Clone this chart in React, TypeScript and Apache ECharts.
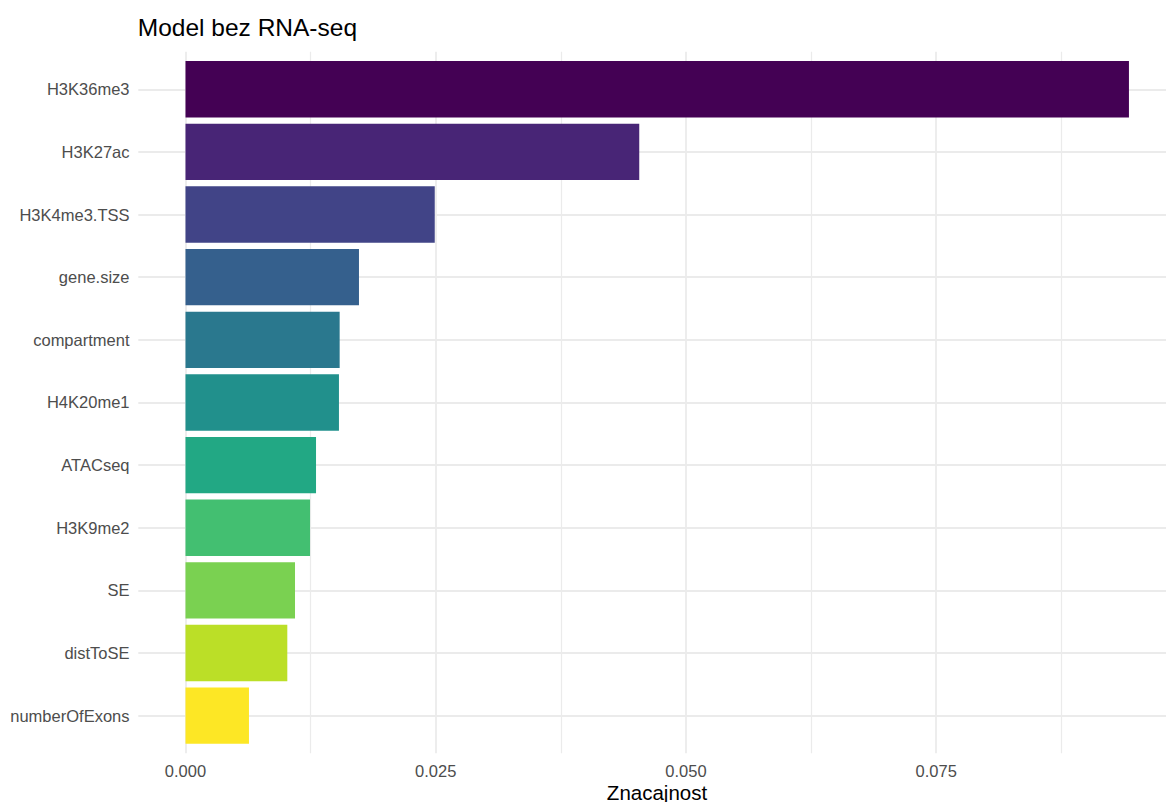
import React, { useEffect, useRef } from "react";
import * as echarts from "echarts";

const categories = [
  "H3K36me3",
  "H3K27ac",
  "H3K4me3.TSS",
  "gene.size",
  "compartment",
  "H4K20me1",
  "ATACseq",
  "H3K9me2",
  "SE",
  "distToSE",
  "numberOfExons",
];
const importance = [
  0.09425, 0.04533, 0.0249, 0.01733, 0.0154, 0.01533, 0.01304, 0.01244, 0.01094,
  0.01017, 0.00634,
];
const barColors = [
  "#440154",
  "#482576",
  "#414487",
  "#35608D",
  "#2A788E",
  "#21908C",
  "#22A884",
  "#43BF71",
  "#7AD151",
  "#BBDF27",
  "#FDE725",
];
const titleText = "Model bez RNA-seq";
const xTitle = "Znacajnost";
const xMax = 0.1;
const xInterval = 0.025;

const FONT = "'Liberation Sans', Arial, sans-serif";
const GRID_COLOR = "#EBEBEB";

export default function App() {
  const ref = useRef<HTMLDivElement>(null);
  useEffect(() => {
    if (!ref.current) return;
    const chart = echarts.init(ref.current, null, { renderer: "svg" });
    const pxPerUnit = 10010;
    const zeroX = 185.5;
    const gridW = xMax * pxPerUnit;
    chart.setOption({
      animation: false,
      backgroundColor: "#ffffff",
      textStyle: { fontFamily: FONT },
      grid: [
        { left: zeroX, top: 51.7, width: gridW, height: 701.6, containLabel: false },
        { left: 138.3, top: 89.3, width: 1040, height: 626.4, containLabel: false },
        { left: zeroX, top: 57.96, width: gridW, height: 689, containLabel: false },
      ],
      xAxis: [
        {
          gridIndex: 0,
          type: "value",
          min: 0,
          max: xMax,
          interval: xInterval,
          axisLine: { show: false },
          axisTick: { show: false },
          axisLabel: {
            show: true,
            margin: 8.2,
            color: "#4D4D4D",
            fontSize: 16.5,
            lineHeight: 18,
            fontFamily: FONT,
            showMaxLabel: false,
            formatter: (v: number) => v.toFixed(3),
          },
          splitLine: { show: true, lineStyle: { color: GRID_COLOR, width: 1.8 } },
          minorTick: { show: false, splitNumber: 2 },
          minorSplitLine: { show: true, lineStyle: { color: GRID_COLOR, width: 1.2 } },
        },
        { gridIndex: 1, type: "value", min: 0, max: 1, show: false },
        { gridIndex: 2, type: "value", min: 0, max: xMax, show: false },
      ],
      yAxis: [
        { gridIndex: 0, type: "value", min: 0, max: 1, show: false },
        {
          gridIndex: 1,
          type: "value",
          min: 0,
          max: categories.length - 1,
          interval: 1,
          axisLine: { show: false },
          axisTick: { show: false },
          axisLabel: { show: false },
          splitLine: { show: true, lineStyle: { color: GRID_COLOR, width: 1.8 } },
        },
        {
          gridIndex: 2,
          type: "category",
          data: categories,
          inverse: true,
          axisLine: { show: false },
          axisTick: { show: false },
          splitLine: { show: false },
          axisLabel: {
            margin: 56,
            color: "#4D4D4D",
            fontSize: 16.5,
            fontFamily: FONT,
          },
        },
      ],
      series: [
        {
          type: "bar",
          xAxisIndex: 2,
          yAxisIndex: 2,
          barCategoryGap: "10%",
          data: importance.map((v, i) => ({
            value: v,
            itemStyle: { color: barColors[i] },
          })),
        },
      ],
      graphic: [
        {
          type: "text",
          x: 137.8,
          y: 27.5,
          style: {
            text: titleText,
            fill: "#000000",
            font: `24.5px ${FONT}`,
            textAlign: "left",
            textVerticalAlign: "middle",
          },
        },
        {
          type: "text",
          x: 657,
          y: 792,
          style: {
            text: xTitle,
            fill: "#000000",
            font: `20.5px ${FONT}`,
            textAlign: "center",
            textVerticalAlign: "middle",
          },
        },
      ],
    });
    return () => chart.dispose();
  }, []);
  return (
    <div
      style={{
        position: "absolute",
        left: 0,
        top: 0,
        width: 1166,
        height: 802,
        overflow: "hidden",
      }}
    >
      <div ref={ref} style={{ width: 1200, height: 802 }} />
    </div>
  );
}
